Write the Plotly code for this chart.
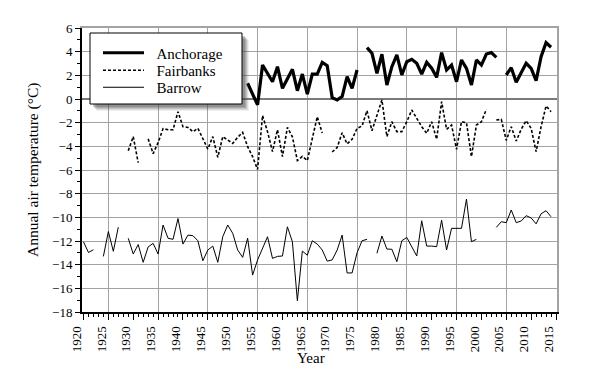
import plotly.graph_objects as go

years = list(range(1920, 2015))

anchorage = {
    1953: 1.33, 1954: 0.4, 1955: -0.5, 1956: 2.87, 1957: 2.17, 1958: 1.46, 1959: 2.73,
    1960: 0.9, 1961: 1.72, 1962: 2.51, 1963: 0.7, 1964: 2.11, 1965: 0.42, 1966: 2.11,
    1967: 2.11, 1968: 3.1, 1969: 2.82, 1970: 0.11, 1971: -0.08, 1972: 0.2, 1973: 1.89,
    1974: 0.9, 1975: 2.45,
    1977: 4.34, 1978: 3.86, 1979: 2.17, 1980: 3.78, 1981: 1.18, 1982: 2.73, 1983: 3.72,
    1984: 2.03, 1985: 3.15, 1986: 3.35, 1987: 3.02, 1988: 2.11, 1989: 3.1, 1990: 2.6,
    1991: 1.83, 1992: 3.92, 1993: 2.45, 1994: 2.87, 1995: 1.46, 1996: 3.3, 1997: 2.59,
    1998: 1.18, 1999: 3.3, 2000: 2.87, 2001: 3.8, 2002: 3.92, 2003: 3.52,
    2005: 2.03, 2006: 2.65, 2007: 1.41, 2008: 2.17, 2009: 3.02, 2010: 2.59, 2011: 1.55,
    2012: 3.58, 2013: 4.76, 2014: 4.37,
}

fairbanks = {
    1929: -4.37, 1930: -3.18, 1931: -5.38,
    1933: -3.37, 1934: -4.62, 1935: -3.69, 1936: -2.5, 1937: -2.6, 1938: -2.6, 1939: -1.07,
    1940: -2.34, 1941: -2.4, 1942: -2.76, 1943: -2.48, 1944: -3.33, 1945: -4.23, 1946: -3.18,
    1947: -4.93, 1948: -3.18, 1949: -3.47, 1950: -3.75, 1951: -3.24, 1952: -2.82, 1953: -4.03,
    1954: -4.87, 1955: -5.95, 1956: -1.4, 1957: -2.76, 1958: -4.45, 1959: -2.6, 1960: -4.87,
    1961: -2.4, 1962: -3.2, 1963: -5.2, 1964: -4.85, 1965: -5.2, 1966: -3.3, 1967: -1.5,
    1968: -2.88,
    1970: -4.48, 1971: -4.1, 1972: -2.85, 1973: -3.8, 1974: -3.4, 1975: -2.48, 1976: -2.28,
    1977: -0.99, 1978: -2.68, 1979: -1.44, 1980: -0.08, 1981: -3.18, 1982: -1.92, 1983: -2.76,
    1984: -2.76, 1985: -1.92, 1986: -0.93, 1987: -1.63, 1988: -2.34, 1989: -2.9, 1990: -1.92,
    1991: -3.4, 1992: -0.23, 1993: -2.56, 1994: -2.2, 1995: -4.25, 1996: -1.92, 1997: -2.0,
    1998: -4.87, 1999: -2.2, 2000: -1.92, 2001: -0.87,
    2003: -1.78, 2004: -1.72, 2005: -3.5, 2006: -2.34, 2007: -3.55, 2008: -2.56, 2009: -1.83,
    2010: -2.48, 2011: -4.45, 2012: -2.34, 2013: -0.59, 2014: -1.07,
}

barrow = {
    1920: -12.07, 1921: -12.97, 1922: -12.74,
    1924: -13.3, 1925: -11.2, 1926: -12.87, 1927: -10.83,
    1929: -11.77, 1930: -13.1, 1931: -12.3, 1932: -13.8, 1933: -12.5, 1934: -12.2, 1935: -13.1,
    1936: -10.65, 1937: -11.77, 1938: -11.86, 1939: -10.1, 1940: -12.26, 1941: -11.5,
    1942: -11.55, 1943: -11.98, 1944: -13.67, 1945: -12.76, 1946: -12.43, 1947: -13.8,
    1948: -11.64, 1949: -10.65, 1950: -11.35, 1951: -12.76, 1952: -13.38, 1953: -11.77,
    1954: -14.88, 1955: -13.6, 1956: -12.6, 1957: -11.64, 1958: -13.47, 1959: -13.3,
    1960: -13.27, 1961: -10.8, 1962: -12.06, 1963: -17.05, 1964: -12.85, 1965: -13.2,
    1966: -11.98, 1967: -12.26, 1968: -12.76, 1969: -13.7, 1970: -13.6, 1971: -12.76,
    1972: -11.5, 1973: -14.7, 1974: -14.7, 1975: -13.0, 1976: -11.98, 1977: -11.86,
    1979: -13.04, 1980: -11.58, 1981: -12.68, 1982: -12.7, 1983: -13.75, 1984: -11.98,
    1985: -11.7, 1986: -12.43, 1987: -13.27, 1988: -10.29, 1989: -12.43, 1990: -12.43,
    1991: -12.48, 1992: -10.25, 1993: -12.76, 1994: -10.93, 1995: -10.93, 1996: -10.93,
    1997: -8.46, 1998: -12.06, 1999: -11.86,
    2003: -10.85, 2004: -10.37, 2005: -10.45, 2006: -9.38, 2007: -10.45, 2008: -10.31,
    2009: -9.86, 2010: -10.05, 2011: -10.55, 2012: -9.7, 2013: -9.44, 2014: -9.95,
}

x_ticks = list(range(1920, 2016, 5))
y_ticks = list(range(-18, 7, 2))

FONT = "Liberation Serif, Times New Roman, serif"
GRID = "#a3a3a3"
NB = "\u00a0\u00a0"

# page body has an 8px margin; plot area in window pixels: x 82..557, y 28..312
OFF = 8
PL, PR, PT, PB = 82, 557, 28, 312


def series(d):
    return [d.get(y) for y in years]


def px2paper(x, y):
    return (x - PL) / (PR - PL), (PB - y) / (PB - PT)


fig = go.Figure()
fig.add_trace(go.Scatter(x=years, y=series(anchorage), mode="lines", name=NB + "Anchorage",
                         line=dict(color="black", width=3.2), legend="legend"))
fig.add_trace(go.Scatter(x=years, y=series(fairbanks), mode="lines", name=NB + "Fairbanks",
                         line=dict(color="black", width=1.6, dash="3px,2px"), legend="legend2"))
fig.add_trace(go.Scatter(x=years, y=series(barrow), mode="lines", name=NB + "Barrow",
                         line=dict(color="black", width=1.0), legend="legend3"))
# invisible trace to activate overlay axes (top and right borders, vertical grid)
fig.add_trace(go.Scatter(x=[years[0]], y=[y_ticks[0]], xaxis="x2", yaxis="y2", mode="markers",
                         marker=dict(opacity=0), showlegend=False, hoverinfo="skip"))

xr = [1919.7, 2015.2]
yr = [-18, 6]

# legend box with soft drop shadow
L, R, T, B = 90, 242, 33, 104
shapes = []
for off, op in [(7, 0.08), (6, 0.12), (5, 0.16), (4, 0.2), (3, 0.25)]:
    x0, y0 = px2paper(L + off, B + off)
    x1, y1 = px2paper(R + off, T + off)
    shapes.append(dict(type="rect", xref="paper", yref="paper", x0=x0, y0=y0, x1=x1, y1=y1,
                       fillcolor="rgba(70,70,70,%s)" % op, line=dict(width=0), layer="above"))
x0, y0 = px2paper(L, B)
x1, y1 = px2paper(R, T)
shapes.append(dict(type="rect", xref="paper", yref="paper", x0=x0, y0=y0, x1=x1, y1=y1,
                   fillcolor="white", line=dict(color="black", width=1), layer="above"))

leg_font = dict(family=FONT, size=15, color="black")


def leg(ycenter):
    lx, ly = px2paper(98, ycenter)
    return dict(x=lx, y=ly, xanchor="left", yanchor="middle", bgcolor="rgba(0,0,0,0)",
                borderwidth=0, font=leg_font, itemwidth=41)


tx, ty = px2paper(311, 358)
yx, yy = px2paper(33, 170)

fig.update_layout(
    width=592 - OFF, height=371 - OFF,
    margin=dict(l=PL - OFF, r=592 - PR, t=PT - OFF, b=371 - PB),
    paper_bgcolor="white", plot_bgcolor="white",
    font=dict(family=FONT, size=13, color="black"),
    showlegend=True,
    legend=leg(53), legend2=leg(70.5), legend3=leg(87.5),
    shapes=shapes,
    annotations=[
        dict(text="Year", x=tx, y=ty, xref="paper", yref="paper", showarrow=False,
             xanchor="center", yanchor="middle", font=dict(family=FONT, size=15)),
        dict(text="Annual air temperature (°C)", x=yx, y=yy, xref="paper", yref="paper",
             showarrow=False, textangle=-90, xanchor="center", yanchor="middle",
             font=dict(family=FONT, size=15.5)),
    ],
    xaxis=dict(range=xr, tickmode="array", tickvals=x_ticks, ticktext=[str(t) for t in x_ticks],
               tickangle=-90, ticks="outside", ticklen=6, tickwidth=1, tickcolor="black",
               ticklabelshift=-7, ticklabelstandoff=1,
               showgrid=False, zeroline=False, showline=True, linecolor="black", linewidth=2,
               minor=dict(dtick=1, tick0=1920, ticks="outside", ticklen=3, tickcolor="black",
                          tickwidth=1, showgrid=False),
               tickfont=dict(family=FONT, size=13), automargin=False),
    xaxis2=dict(range=xr, overlaying="x", side="top", tick0=1925, dtick=10, showticklabels=False,
                ticks="", showgrid=True, gridcolor=GRID, gridwidth=1.3, zeroline=False,
                showline=True, linecolor=GRID, linewidth=1.5, automargin=False),
    yaxis=dict(range=yr, tickmode="array", tickvals=y_ticks, ticks="outside", ticklen=5,
               tickwidth=1, tickcolor="black", showgrid=True, gridcolor=GRID, gridwidth=1.3,
               zeroline=True, zerolinecolor="#7a7a7a", zerolinewidth=2,
               showline=True, linecolor="black", linewidth=2,
               minor=dict(dtick=1, tick0=0, ticks="outside", ticklen=3, tickcolor="black",
                          tickwidth=1, showgrid=False),
               tickfont=dict(family=FONT, size=13), automargin=False),
    yaxis2=dict(range=yr, overlaying="y", side="right", showticklabels=False, ticks="",
                showgrid=False, zeroline=False, showline=True, linecolor=GRID, linewidth=1.5,
                automargin=False),
)

fig.write_html("out.html")
